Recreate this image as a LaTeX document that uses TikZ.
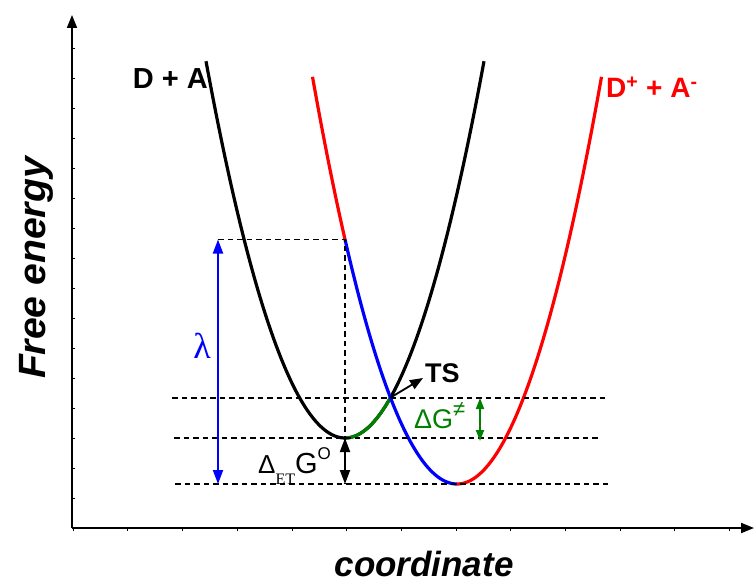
\documentclass[tikz,border=0pt]{standalone}
\usepackage{fontspec}
\usepackage{graphicx}
\setmainfont{Liberation Sans}
\newfontfamily\timesfont{Liberation Serif}
\usetikzlibrary{arrows.meta}
\definecolor{dgreen}{rgb}{0,0.5,0}

\begin{document}
\begin{tikzpicture}[x=10pt, y=-10pt,
    curve/.style={line width=3.2pt},
    level/.style={dash pattern=on 5.5pt off 4pt, line width=1.3pt},
    gap/.style={{Triangle[length=14pt,width=10pt]}-{Triangle[length=14pt,width=10pt]}, line width=2pt},
    lbl/.style={font=\bfseries\fontsize{29}{29}\selectfont, inner sep=0pt}]
    \useasboundingbox (0,0) rectangle (75.4,58.3);
    % axes and ticks
    \draw[line width=2pt, -{Triangle[length=13pt,width=10pt]}] (7.2,52.8) -- (7.2,1.5);
    \draw[line width=2pt, -{Triangle[length=13pt,width=10pt]}] (7.2,52.8) -- (75.4,52.8);
    \foreach \k in {1,...,16} \draw[line width=0.6pt] (7.2,52.8-3*\k) -- ++(0.3,0);
    \foreach \k in {0,...,12} \draw[line width=0.6pt] (7.3+5.47*\k,52.8) -- ++(0,0.3);
    % parabolas: D+A (min 34.5,43.8) and D+ + A- (min 45.7,48.4)
    \draw[curve, samples=100, domain=20.6:48.4] plot (\x, {43.8-0.195*(\x-34.5)^2});
    \draw[curve, dgreen, samples=40, domain=34.5:39.05] plot (\x, {43.8-0.195*(\x-34.5)^2});
    \draw[curve, red, samples=30, domain=31.25:34.5] plot (\x, {48.4-0.195*(\x-45.7)^2});
    \draw[curve, blue, samples=80, domain=34.5:45.7] plot (\x, {48.4-0.195*(\x-45.7)^2});
    \draw[curve, red, samples=100, domain=45.7:60.15] plot (\x, {48.4-0.195*(\x-45.7)^2});
    \coordinate (lamtop) at (34.5,23.95);
    \coordinate (lamleft) at (21.8,23.95);
    \coordinate (lambot) at (21.8,48.4);
    \coordinate (minDA) at (34.5,43.8);
    \coordinate (minDAdown) at (34.5,48.4);
    \coordinate (minDpAm) at (45.7,48.4);
    \coordinate (TS) at (39.05,39.76);
    % dashed levels
    \draw[level] (lamleft) -- (lamtop) -- (minDAdown);
    \draw[level] (17.2,39.8) coordinate (tsL) -- (60.8,39.8) coordinate (tsR);
    \draw[level] (17.4,43.8) coordinate (daL) -- (60.0,43.8) coordinate (daR);
    \draw[level] (17.5,48.4) coordinate (dpL) -- (60.9,48.4) coordinate (dpR);
    % lambda
    \draw[gap, blue] (lamleft) -- (lambot);
    \node[blue, font=\timesfont\fontsize{36}{36}\selectfont, inner sep=0pt] (lambda) at (20.2,34.6) {λ};
    % driving force
    \draw[gap] (minDA) -- (minDAdown);
    \node[anchor=base west, inner sep=0pt] (dETG) at (25.8,47.3) {{\fontsize{26}{26}\selectfont Δ}{\timesfont\fontsize{16}{16}\selectfont\raisebox{-11pt}{ET}}{\fontsize{29}{29}\selectfont G}{\fontsize{17}{17}\selectfont\raisebox{14pt}{O}}};
    % transition state
    \node[lbl, font=\bfseries\fontsize{27}{27}\selectfont, anchor=west] (tslabel) at (42.5,37.3) {TS};
    \coordinate (tstip) at (42.3,37.8);
    \draw[line width=1.8pt, -{Triangle[length=13pt,width=10pt]}] (TS) -- (tstip);
    % activation barrier
    \coordinate (dgtop) at (48.0,39.8);
    \coordinate (dgbot) at (48.0,44.1);
    \draw[dgreen, line width=1.8pt, {Triangle[length=11pt,width=8pt]}-{Triangle[length=11pt,width=8pt]}] (dgtop) -- (dgbot);
    \node[dgreen, anchor=base west, inner sep=0pt] (dG) at (41.4,42.8) {\fontsize{27}{27}\selectfont ΔG\raisebox{12pt}{\fontsize{22}{22}\selectfont ≠}};
    % state labels
    \node[lbl, anchor=east] (DA) at (20.8,7.9) {D + A};
    \node[lbl, red, font=\bfseries\fontsize{28}{28}\selectfont, anchor=west] (DpAm) at (60.6,8.7) {D\textsuperscript{+} + A\textsuperscript{-}};
    % axis titles
    \node[font=\bfseries\itshape\fontsize{38}{38}\selectfont, rotate=90, anchor=base, inner sep=0pt] (ylab) at (4.5,26.8) {\scalebox{1.03}[1]{Free energy}};
    \node[font=\bfseries\itshape\fontsize{35}{35}\selectfont, anchor=base, inner sep=0pt] (xlab) at (42.4,57.6) {coordinate};
\end{tikzpicture}
\end{document}
